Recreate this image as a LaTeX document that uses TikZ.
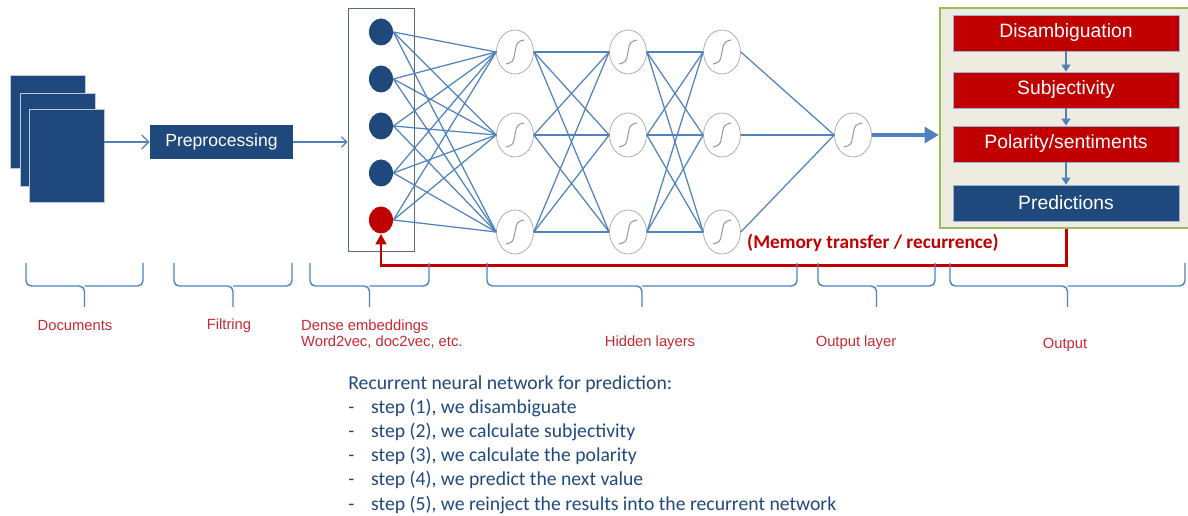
\documentclass[tikz,border=0pt]{standalone}
\usepackage{fontspec}
\setmainfont{Liberation Sans}
\newfontfamily\calibri{Carlito}
\usetikzlibrary{arrows.meta,positioning,shapes.geometric}
\definecolor{navy}{RGB}{31,73,125}
\definecolor{darkred}{RGB}{192,0,0}
\definecolor{lblred}{RGB}{200,40,50}
\definecolor{edgeblue}{RGB}{79,129,189}
\definecolor{olive}{RGB}{155,187,89}
\definecolor{paper}{RGB}{238,236,225}
\tikzset{
  doc/.style={rectangle, fill=navy, draw=white!70!navy, minimum width=1.5cm, minimum height=1.86cm, inner sep=0pt},
  bluebox/.style={rectangle, fill=navy, text=white, font=\fontsize{10}{12}\selectfont, minimum width=2.86cm, minimum height=0.68cm},
  stage/.style={rectangle, fill=darkred, draw=edgeblue!60, text=white, font=\fontsize{11}{13}\selectfont, minimum width=4.52cm, minimum height=0.72cm, inner sep=0pt},
  inp/.style={ellipse, fill=navy, minimum width=0.48cm, minimum height=0.54cm, inner sep=0pt},
  neuron/.style={ellipse, draw=gray!70, fill=white, minimum width=0.74cm, minimum height=0.88cm, inner sep=0pt},
  link/.style={edgeblue, line width=0.7pt},
  scurve/.style={gray!80, line width=0.6pt, rounded corners=2pt},
  brc/.style={edgeblue, line width=0.8pt, rounded corners=3pt},
  lbl/.style={text=lblred, font=\fontsize{8.4}{9}\selectfont},
  feedback/.style={darkred, line width=1.7pt, -{Triangle[length=6pt,width=6pt]}}
}
\begin{document}
\begin{tikzpicture}[x=0.02cm, y=-0.02cm]
\useasboundingbox (0,0) rectangle (1188,516);
\node[doc] (doc1) at (47.5,121.5) {};
\node[doc] (doc2) at (57.5,140) {};
\node[doc] (doc3) at (66.5,155.5) {};
\node[bluebox] (prep) at (221.5,142) {Preprocessing};
\node[draw=gray!60!navy, line width=0.5pt, minimum width=1.32cm, minimum height=4.86cm] (emb) at (381,129.5) {};
\foreach \r/\y in {1/32,2/79,3/126,4/173}
  \node[inp] (in\r) at (381,\y) {};
\node[inp, fill=darkred] (in5) at (381,220) {};
\foreach \c/\x in {1/515,2/628,3/722}
  \foreach \r/\y in {1/52,2/135,3/232} {
    \node[neuron] (h\c\r) at (\x,\y) {};
    \draw[scurve] (h\c\r.center) ++(-9,12) -- ++(7,-2) -- ++(4,-20) -- ++(7,-2);
  }
\node[neuron] (out) at (853,135) {};
\draw[scurve] (out.center) ++(-9,12) -- ++(7,-2) -- ++(4,-20) -- ++(7,-2);
\foreach \i in {1,...,5}
  \foreach \j in {1,2,3}
    \draw[link] (in\i.east) -- (h1\j.west);
\foreach \j in {1,2,3}
  \foreach \k in {1,2,3} {
    \draw[link] (h1\j.east) -- (h2\k.west);
    \draw[link] (h2\j.east) -- (h3\k.west);
  }
\foreach \j in {1,2,3}
  \draw[link] (h3\j.east) -- (out.west);
\draw[link, -{Straight Barb[length=4pt]}] (doc3.east |- prep) -- (prep);
\draw[link, -{Straight Barb[length=3pt]}] (prep) -- (emb.west |- prep);
\node[draw=olive, line width=1.5pt, fill=paper, minimum width=5.04cm, minimum height=4.4cm] (outbox) at (1066,118) {};
\node[stage] (dis) at (1066,33) {Disambiguation};
\node[stage] (subj) at (1066,90) {Subjectivity};
\node[stage] (pol) at (1066,144) {Polarity/sentiments};
\node[stage, fill=navy] (pred) at (1066,203) {Predictions};
\foreach \a/\b in {dis/subj, subj/pol, pol/pred}
  \draw[edgeblue, line width=1.2pt, -{Triangle[length=4pt,width=5pt]}] (\a) -- (\b);
\draw[edgeblue, line width=2.2pt, -{Triangle[length=8pt,width=9pt]}] (out) -- (outbox.west |- out);
\draw[feedback] (pred.south |- outbox.south) -- ++(0,36) -| (in5.south);
\node[text=darkred, font=\calibri\bfseries\fontsize{11}{13}\selectfont] (memlbl) at (873,243) {(Memory transfer / recurrence)};
\foreach \a/\b in {26/143, 174/292, 310/429, 487/797, 818/935, 950/1185} {
  \draw[brc] (\a,263) |- ({(\a+\b)/2},286) -- ++(0,21);
  \draw[brc] (\b,263) |- ({(\a+\b)/2},286);
}
\node[lbl] (ldocs) at (75,326) {Documents};
\node[lbl] (lfilt) at (229,326) {Filtring};
\node[lbl, align=left, anchor=west] (lemb) at (295,334) {Dense embeddings\\Word2vec, doc2vec, etc.};
\node[lbl] (lhid) at (650,343) {Hidden layers};
\node[lbl] (lolay) at (856,343) {Output layer};
\node[lbl] (lout) at (1065,345) {Output};
\node[anchor=north west, inner sep=0pt, align=left, text=navy, font=\calibri\fontsize{11.2}{13.8}\selectfont] (notes) at (348,375) {Recurrent neural network for prediction:\\
\makebox[13pt][l]{-}step (1), we disambiguate\\
\makebox[13pt][l]{-}step (2), we calculate subjectivity\\
\makebox[13pt][l]{-}step (3), we calculate the polarity\\
\makebox[13pt][l]{-}step (4), we predict the next value\\
\makebox[13pt][l]{-}step (5), we reinject the results into the recurrent network};
\end{tikzpicture}
\end{document}
